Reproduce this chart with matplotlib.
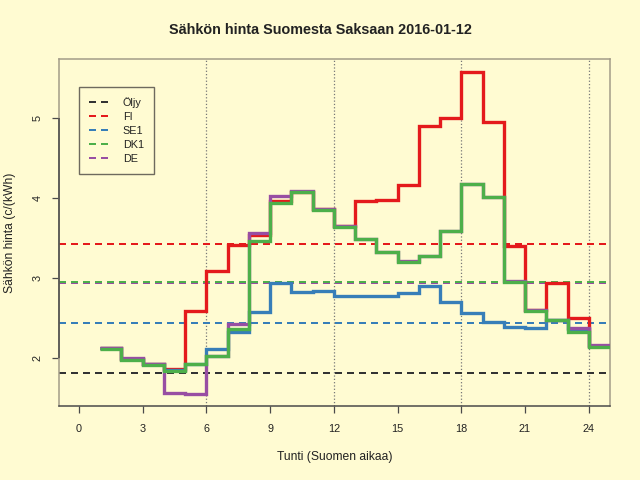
import numpy as np
import matplotlib
matplotlib.use('Agg')
import matplotlib.pyplot as plt
from matplotlib.lines import Line2D

plt.rcParams['font.family'] = ['Liberation Sans', 'DejaVu Sans']

#%%
# hourly prices c/kWh, hours 1..24 (Finnish time)
hours = np.arange(1, 26)
fi = [2.12, 1.99, 1.92, 1.86, 2.59, 3.09, 3.41, 3.54, 3.97, 4.08, 3.87, 3.65,
      3.97, 3.98, 4.17, 4.90, 5.00, 5.58, 4.95, 3.40, 2.60, 2.94, 2.50, 2.15]
se1 = [2.12, 1.99, 1.92, 1.85, 1.92, 2.11, 2.32, 2.58, 2.94, 2.82, 2.84, 2.78,
       2.77, 2.77, 2.81, 2.90, 2.70, 2.56, 2.45, 2.39, 2.38, 2.47, 2.36, 2.15]
dk1 = [2.11, 1.98, 1.91, 1.84, 1.92, 2.02, 2.36, 3.46, 3.94, 4.08, 3.85, 3.64,
       3.49, 3.32, 3.20, 3.28, 3.59, 4.18, 4.02, 2.95, 2.59, 2.47, 2.33, 2.14]
de = [2.13, 2.00, 1.92, 1.56, 1.55, 2.02, 2.43, 3.57, 4.03, 4.09, 3.86, 3.65,
      3.49, 3.32, 3.21, 3.28, 3.59, 4.18, 4.02, 2.96, 2.60, 2.47, 2.38, 2.16]

# dashed reference levels
names = ['Öljy', 'FI', 'SE1', 'DK1', 'DE']
levels = [1.81, 3.425, 2.44, 2.95, 2.94]
colors = ['#333333', '#e41a1c', '#377eb8', '#4daf4a', '#984ea3']

xticks = [0, 3, 6, 9, 12, 15, 18, 21, 24]
yticks = [2, 3, 4, 5]
vlines = [6, 12, 18, 24]

bg = '#fffbd2'
framec = '#a39c88'
axc = '#4a4a4a'
txtc = '#222222'

#%%
fig = plt.figure(figsize=(6.4, 4.8), dpi=100, facecolor=bg)
ax = fig.add_axes([59/640, 74/480, 551/640, 347/480], facecolor=bg)
ax.set_xlim(-0.94, 25)
ax.set_ylim(1.4, 5.74)

for v in vlines:
    ax.axvline(v, color='#777777', ls=':', lw=0.9, zorder=1)

order = [0, 4, 3, 2, 1]  # DE level sits under DK1
for i in order:
    ax.axhline(levels[i], color=colors[i], lw=1.44, dashes=(3.5, 2.5), zorder=2)

series = [(fi, colors[1]), (se1, colors[2]), (de, colors[4]), (dk1, colors[3])]
for vals, c in series:
    ax.stairs(vals, hours, baseline=None, color=c, lw=2.4, zorder=3)

ax.set_xticks(xticks)
ax.set_yticks(yticks)
ax.set_yticklabels([str(t) for t in yticks], rotation=90, va='center')
ax.tick_params(length=5, width=0.9, color=axc, labelsize=7.8, labelcolor=txtc)
ax.tick_params(axis='x', pad=8)
ax.tick_params(axis='y', pad=6.7)

for s in ax.spines.values():
    s.set_color(framec)
    s.set_linewidth(1.1)
ax.spines['bottom'].set_color(axc)

# R style axis line between first and last tick
x0 = ax.get_xlim()[0]
ax.plot([x0, x0], [yticks[0], yticks[-1]], color=axc, lw=1.1, clip_on=False, zorder=5,
        solid_capstyle='butt')

fig.text(0.5, 1 - 30/480, 'Sähkön hinta Suomesta Saksaan 2016-01-12', fontsize=10.4,
         fontweight='bold', color=txtc, ha='center', va='center')
fig.text(334.5/640, 1 - 457/480, 'Tunti (Suomen aikaa)', fontsize=8.7, color=txtc,
         ha='center', va='center')
fig.text(10/640, 1 - 232.5/480, 'Sähkön hinta (c/(kWh)', fontsize=8.7, color=txtc,
         ha='center', va='center', rotation=90)

handles = [Line2D([], [], color=c, lw=1.44, dashes=(3.5, 2.5)) for c in colors]
leg = ax.legend(handles, names, loc='upper left', bbox_to_anchor=(0.0363, 0.919),
                borderaxespad=0, fancybox=False, framealpha=1, facecolor=bg,
                edgecolor='#6e6a5e', fontsize=7.8, handlelength=1.85, labelspacing=0.38,
                borderpad=0.9, handletextpad=1.3)
leg.get_frame().set_linewidth(1.0)
for t in leg.get_texts():
    t.set_color(txtc)

plt.savefig('out.png', dpi=100, facecolor=bg)
